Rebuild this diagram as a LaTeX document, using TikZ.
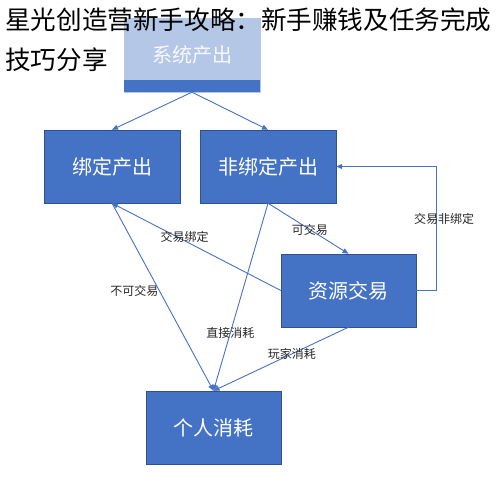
\documentclass[tikz,border=0pt]{standalone}
\usepackage{fontspec}
\setmainfont{Noto Sans CJK SC}
\usetikzlibrary{arrows.meta}
\definecolor{boxblue}{HTML}{4472C4}
\definecolor{boxedge}{HTML}{2F528F}
\definecolor{paleblue}{HTML}{B4C7E7}

\begin{document}
\begin{tikzpicture}[x=1pt, y=-1pt, >={Triangle[length=6pt,width=5pt]},
  flowbox/.style={draw=boxedge, fill=boxblue, text=white, minimum width=136pt, minimum height=73pt, inner sep=0pt, font=\fontsize{20}{24}\selectfont},
  flowline/.style={draw=boxblue, line width=0.9pt},
  edgetext/.style={font=\fontsize{12}{14}\selectfont, text=black!85, inner sep=1pt}]

\useasboundingbox (0,0) rectangle (501,500);

\node[flowbox, fill=paleblue, draw=paleblue, minimum height=74pt, text=white!90!paleblue] (sys) at (192,55) {系统产出};
\fill[boxblue] (sys.south west) rectangle ([yshift=12pt]sys.south east); %band

\node[flowbox] (bind) at (112,166.5) {绑定产出};
\node[flowbox] (nbind) at (268,166.5) {非绑定产出};
\node[flowbox, minimum width=135pt] (trade) at (348.5,290.5) {资源交易};
\node[flowbox, minimum width=135pt] (use) at (213.5,427.5) {个人消耗};

\node[anchor=north west, align=left, inner sep=0pt, font=\fontsize{25.6}{40}\selectfont] (title) at (5,8) {星光创造营新手攻略：新手赚钱及任务完成\\技巧分享};

\draw[flowline, ->] (sys.south) -- (bind.north);
\draw[flowline, ->] (sys.south) -- (nbind.north);
\draw[flowline, ->] (bind.south) -- node[edgetext, pos=0.47, anchor=east] {不可交易} (use.north);
\draw[flowline, ->] (trade.west) -- node[edgetext, pos=0.57, yshift=4pt] {交易绑定} (bind.south);
\draw[flowline, ->] (nbind.south) -- node[edgetext, pos=0.52] {可交易} (trade.north);
\draw[flowline, ->] (nbind.south) -- node[edgetext, pos=0.69] {直接消耗} (use.north);
\draw[flowline, ->] (trade.south) -- node[edgetext, pos=0.42] {玩家消耗} (use.north);
\draw[flowline, ->] (trade.east) -- ++(20,0) |- node[edgetext, pos=0.29, xshift=8pt] {交易非绑定} (nbind.east); %loop back
\end{tikzpicture}
\end{document}
